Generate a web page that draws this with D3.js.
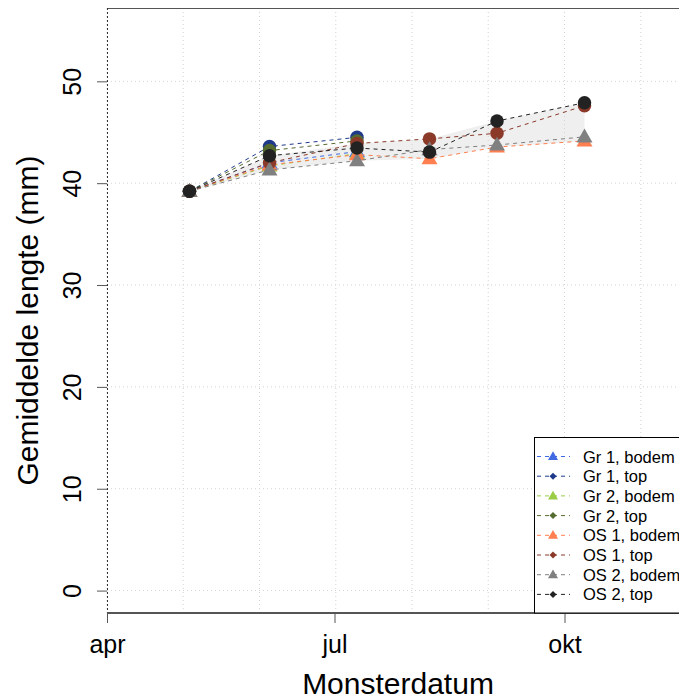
<!DOCTYPE html>
<html>
<head>
<meta charset="utf-8">
<script src="https://cdn.jsdelivr.net/npm/d3@7"></script>
<style>
  html, body { margin: 0; padding: 0; background: #fff; }
  svg { display: block; font-family: "Liberation Sans", Arial, sans-serif; }
</style>
</head>
<body>
<svg id="chart" width="679" height="700"></svg>
<script>
// Sampling dates (shared by all series)
const sampleDates = ["2014-05-04", "2014-06-05", "2014-07-10", "2014-08-08", "2014-09-04", "2014-10-09"];

// Mean length (mm) per series
const gr1Bodem = [39.2, 42.0, 43.1];
const gr1Top   = [39.2, 43.6, 44.5];
const gr2Bodem = [39.2, 41.7, 42.9];
const gr2Top   = [39.2, 43.2, 44.15];
const os1Bodem = [39.2, 41.8, 42.8, 42.4, 43.55, 44.15];
const os1Top   = [39.2, 42.0, 43.9, 44.35, 44.9, 47.6];
const os2Bodem = [39.2, 41.3, 42.2, 43.3, 43.75, 44.55];
const os2Top   = [39.2, 42.7, 43.45, 43.05, 46.1, 47.9];

const seriesNames  = ["Gr 1, bodem", "Gr 1, top", "Gr 2, bodem", "Gr 2, top",
                      "OS 1, bodem", "OS 1, top", "OS 2, bodem", "OS 2, top"];
const seriesValues = [gr1Bodem, gr1Top, gr2Bodem, gr2Top, os1Bodem, os1Top, os2Bodem, os2Top];
const seriesColors = ["#4169E1", "#1F3A8A", "#9ACD45", "#556B2F",
                      "#FF7F50", "#8B3A2A", "#808080", "#222222"];
const seriesShapes = ["triangle", "circle", "triangle", "circle",
                      "triangle", "circle", "triangle", "circle"];

// Series whose min/max range is shaded
const bandSeries = [os1Bodem, os1Top, os2Bodem, os2Top];

// Axis ticks
const xTickDates  = ["2014-04-01", "2014-07-01", "2014-10-01"];
const xTickLabels = ["apr", "jul", "okt"];
const yTicks = [0, 10, 20, 30, 40, 50];

const parse = d3.timeParse("%Y-%m-%d");
const svg = d3.select("#chart");
const W = 679, H = 700;
const mLeft = 107, mRight = 717, mTop = 8, mBottom = 613;

const x = d3.scaleTime()
  .domain([parse("2014-04-01"), parse("2014-12-01")])
  .range([mLeft, mRight]);
const y = d3.scaleLinear().domain([-2.2, 57.2]).range([mBottom, mTop]);

svg.append("rect").attr("width", W).attr("height", H).attr("fill", "#fff");

const plot = svg.append("g");

// Shaded range (min..max over the OS series)
const band = sampleDates.map((d, i) => ({
  date: parse(d),
  lo: d3.min(bandSeries, s => s[i]),
  hi: d3.max(bandSeries, s => s[i])
}));
plot.append("path")
  .datum(band)
  .attr("fill", "#EFEFEF")
  .attr("d", d3.area().x(d => x(d.date)).y0(d => y(d.lo)).y1(d => y(d.hi)));

// Grid: dotted light-grey lines
const [d0, d1] = x.domain();
const vGrid = d3.range(0, 9).map(i => new Date(+d0 + i * (d1 - d0) / 8));
plot.append("g").selectAll("line").data(vGrid).join("line")
  .attr("x1", d => x(d)).attr("x2", d => x(d))
  .attr("y1", mTop).attr("y2", mBottom)
  .attr("stroke", "#D3D3D3").attr("stroke-width", 1)
  .attr("stroke-dasharray", "1,3");
plot.append("g").selectAll("line").data(yTicks).join("line")
  .attr("x1", mLeft).attr("x2", mRight)
  .attr("y1", d => y(d)).attr("y2", d => y(d))
  .attr("stroke", "#D3D3D3").attr("stroke-width", 1)
  .attr("stroke-dasharray", "1,3");

function drawShape(g, shape, cx, cy, color, size) {
  if (shape === "triangle") {
    const h = size * 0.87;
    g.append("path")
      .attr("d", `M${cx},${cy - h * 0.6}L${cx + size / 2},${cy + h * 0.4}L${cx - size / 2},${cy + h * 0.4}Z`)
      .attr("fill", color);
  } else if (shape === "circle") {
    g.append("circle").attr("cx", cx).attr("cy", cy).attr("r", size / 2).attr("fill", color);
  } else {
    const r = size / 2;
    g.append("path")
      .attr("d", `M${cx},${cy - r}L${cx + r},${cy}L${cx},${cy + r}L${cx - r},${cy}Z`)
      .attr("fill", color);
  }
}

// Series: dashed lines with markers
const line = d3.line().x(d => x(d.date)).y(d => y(d.v));
seriesValues.forEach((vals, k) => {
  const pts = vals.map((v, i) => ({ date: parse(sampleDates[i]), v }));
  const g = plot.append("g");
  g.append("path").datum(pts)
    .attr("fill", "none")
    .attr("stroke", seriesColors[k])
    .attr("stroke-width", 1)
    .attr("stroke-dasharray", "4,4")
    .attr("d", line);
  pts.forEach(p => {
    drawShape(g, seriesShapes[k], x(p.date), y(p.v), seriesColors[k],
      seriesShapes[k] === "triangle" ? 16 : 13.5);
  });
});

// Frame
svg.append("line").attr("x1", mLeft).attr("x2", W).attr("y1", mTop + 0.5).attr("y2", mTop + 0.5)
  .attr("stroke", "#555").attr("stroke-width", 1);
svg.append("line").attr("x1", mLeft + 0.5).attr("x2", mLeft + 0.5).attr("y1", mTop).attr("y2", mBottom)
  .attr("stroke", "#333").attr("stroke-width", 1).attr("stroke-dasharray", "2,2");

// Y axis: ticks and rotated labels
const yAxis = svg.append("g")
  .attr("transform", `translate(${mLeft},0)`)
  .call(d3.axisLeft(y).tickValues(yTicks).tickSize(10));
yAxis.select(".domain").remove();
yAxis.selectAll(".tick line").attr("stroke", "#555");
yAxis.selectAll(".tick text")
  .attr("x", 0).attr("y", -35).attr("dy", null)
  .attr("transform", "rotate(-90)")
  .attr("font-size", 25)
  .attr("fill", "#000")
  .attr("text-anchor", "middle")
  .attr("dominant-baseline", "central");

// X axis
const xAxis = svg.append("g")
  .attr("transform", `translate(0,${mBottom})`)
  .call(d3.axisBottom(x)
    .tickValues(xTickDates.map(parse))
    .tickFormat((d, i) => xTickLabels[i])
    .tickSize(10).tickPadding(12));
xAxis.select(".domain").attr("d", `M${mLeft},0H${W}`).attr("stroke", "#555").attr("stroke-width", 2);
xAxis.selectAll(".tick line").attr("stroke", "#555");
xAxis.selectAll(".tick text").attr("font-size", 25).attr("fill", "#000");

// Axis titles
svg.append("text")
  .attr("x", 398).attr("y", 694)
  .attr("text-anchor", "middle")
  .attr("font-size", 30)
  .text("Monsterdatum");
svg.append("text")
  .attr("transform", `translate(38,${(mTop + mBottom) / 2 + 10}) rotate(-90)`)
  .attr("text-anchor", "middle")
  .attr("font-size", 30)
  .text("Gemiddelde lengte (mm)");

// Legend
const lg = svg.append("g");
lg.append("rect")
  .attr("x", 534.5).attr("y", 437.5).attr("width", 200).attr("height", mBottom - 437.5)
  .attr("fill", "#fff").attr("stroke", "#000").attr("stroke-width", 1);
seriesNames.forEach((name, k) => {
  const cy = 456.5 + k * 19.7;
  lg.append("line")
    .attr("x1", 537).attr("x2", 570).attr("y1", cy).attr("y2", cy)
    .attr("stroke", seriesColors[k]).attr("stroke-width", 1)
    .attr("stroke-dasharray", "4,4");
  drawShape(lg, seriesShapes[k] === "circle" ? "diamond" : "triangle",
    553, cy, seriesColors[k], seriesShapes[k] === "circle" ? 7 : 10);
  lg.append("text")
    .attr("x", 583).attr("y", cy)
    .attr("dominant-baseline", "central")
    .attr("font-size", 16.5)
    .text(name);
});
</script>
</body>
</html>
